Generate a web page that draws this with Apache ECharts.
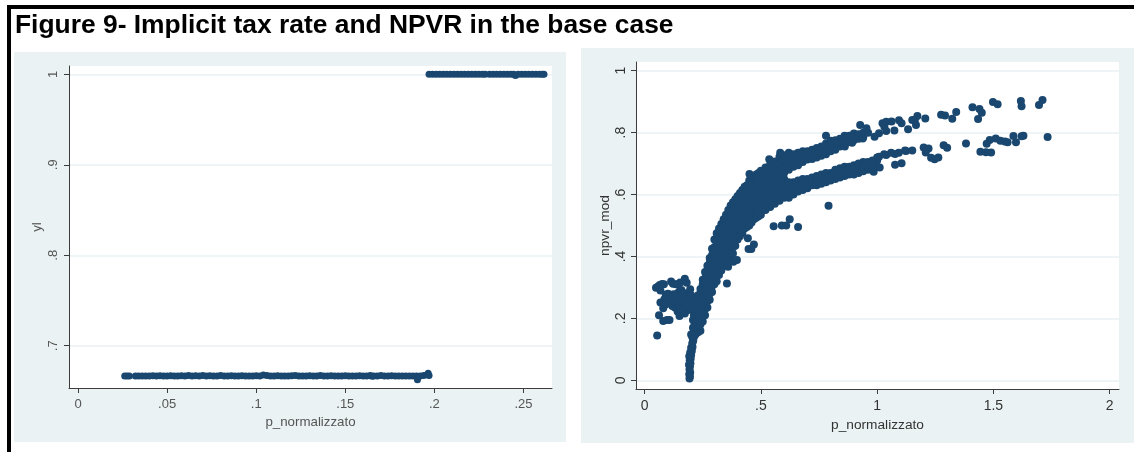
<!DOCTYPE html>
<html><head><meta charset="utf-8">
<style>html,body{margin:0;padding:0;background:#fff}#c{width:1134px;height:452px}</style>
<script src="https://cdn.jsdelivr.net/npm/echarts@6/dist/echarts.min.js"></script>
</head><body><div id="c"></div>
<script>
const titleText = 'Figure 9- Implicit tax rate and NPVR in the base case';
const xName = 'p_normalizzato', leftYName = 'yl', rightYName = 'npvr_mod';
const leftXTicks = [0, 0.05, 0.1, 0.15, 0.2, 0.25];
const leftYTicks = [0.7, 0.8, 0.9, 1];
const rightXTicks = [0, 0.5, 1, 1.5, 2];
const rightYTicks = [0, 0.2, 0.4, 0.6, 0.8, 1];

// Left panel: readings from the two horizontal bands
const lowBandPoints = [[.0262,.6667],[.0275,.6667],[.0288,.6667],[.0322,.6667],[.034,.6667],[.036,.6667],[.038,.6667],[.04,.6667],[.042,.6668],[.044,.6667],[.046,.6668],[.048,.6667],[.05,.6667],[.052,.6668],[.054,.6667],[.056,.6667],[.058,.6668],[.06,.6667],[.062,.667],[.064,.6667],[.066,.6668],[.068,.6667],[.07,.6672],[.072,.6667],[.074,.6668],[.076,.6667],[.078,.6667],[.08,.6672],[.082,.6667],[.084,.6667],[.086,.6668],[.088,.6667],[.09,.6667],[.092,.6668],[.094,.6667],[.096,.6667],[.098,.6667],[.1,.6668],[.102,.6667],[.104,.6676],[.106,.6672],[.108,.6667],[.11,.6667],[.112,.6668],[.114,.6667],[.116,.6667],[.118,.6667],[.12,.6668],[.122,.667],[.124,.6667],[.126,.6667],[.128,.6667],[.13,.6668],[.132,.6667],[.134,.6667],[.136,.667],[.138,.6667],[.14,.6667],[.142,.6668],[.144,.6667],[.146,.6667],[.148,.6667],[.15,.6668],[.152,.6667],[.154,.6667],[.156,.6667],[.158,.6668],[.16,.6667],[.162,.6667],[.164,.6672],[.165,.6662],[.166,.6667],[.168,.6667],[.17,.667],[.172,.6667],[.174,.6667],[.176,.6668],[.178,.6667],[.18,.6667],[.182,.6667],[.184,.6667],[.186,.6667],[.188,.6667],[.19,.6667],[.1905,.6625],[.192,.6667],[.194,.667],[.196,.668],[.1965,.6695],[.197,.6672]];
const highBandPoints = [[.197,1],[.199,1],[.201,1],[.203,1],[.205,1],[.207,1],[.209,1],[.211,1],[.213,1],[.215,1],[.217,1],[.219,1],[.221,1],[.223,1],[.225,1],[.227,1],[.2285,1],[.231,1],[.233,1],[.235,1],[.237,1],[.239,1],[.241,1],[.243,1],[.2445,1],[.2455,.9988],[.247,1],[.249,1],[.251,1],[.253,1],[.255,1],[.257,1],[.259,1],[.2605,1],[.2615,1]];

// Right panel: hand-read scatter points
const stemPoints = [[.193,.006],[.195,.012],[.192,.02],[.196,.025],[.193,.035],[.195,.045],[.191,.05],[.197,.055],[.194,.065],[.198,.07],[.192,.078],[.2,.082],[.196,.09],[.203,.095],[.2,.105],[.206,.108],[.205,.12],[.209,.128],[.205,.14],[.21,.136],[.2,.148],[.215,.145],[.212,.158],[.208,.17],[.215,.18],[.208,.195],[.212,.21]];
const clusterPoints = [[.054,.145],[.062,.21],[.08,.192],[.096,.195],[.107,.195],[.049,.299],[.058,.303],[.065,.308],[.075,.311],[.083,.31],[.068,.29],[.114,.319],[.122,.312],[.134,.31],[.145,.31],[.153,.316],[.173,.328],[.181,.315],[.068,.251],[.08,.233],[.091,.276],[.1,.28],[.111,.276],[.12,.268],[.127,.254],[.142,.281],[.15,.288],[.158,.292],[.173,.281],[.196,.294],[.189,.27],[.096,.259],[.119,.24],[.142,.222],[.15,.208],[.173,.216],[.165,.254],[.196,.243],[.212,.243],[.134,.27],[.158,.265],[.189,.227],[.219,.222],[.105,.25],[.085,.262],[.125,.278],[.18,.25],[.2,.26],[.205,.23],[.09,.245],[.11,.258],[.13,.235],[.145,.25],[.16,.235],[.175,.24],[.18,.27],[.165,.28],[.21,.26],[.2,.275],[.15,.268]];
const massX = [.22,.23,.24,.25,.26,.27,.28,.29,.30,.31,.32,.33,.34,.35,.36,.37,.38,.39,.40,.41,.42,.43,.44,.45,.46,.47,.48,.49,.50,.52,.54,.56,.58,.60];
const massYByColumn = [
 [.15,.17,.19,.21,.23,.25,.26],
 [.155,.175,.195,.215,.235,.255,.275],
 [.16,.18,.20,.22,.24,.26,.28,.295],
 [.19,.21,.23,.25,.27,.29,.31,.325],
 [.21,.23,.25,.27,.29,.31,.33,.35],
 [.235,.255,.275,.295,.315,.335,.355,.37],
 [.26,.28,.30,.32,.34,.36,.38,.395],
 [.285,.305,.325,.345,.365,.385,.405,.425],
 [.31,.33,.35,.37,.39,.41,.43,.455],
 [.32,.34,.36,.38,.40,.42,.44,.46,.475],
 [.34,.36,.38,.40,.42,.44,.46,.48,.49],
 [.355,.375,.395,.415,.435,.455,.475,.495,.505],
 [.37,.39,.41,.43,.45,.47,.49,.51,.52],
 [.385,.405,.425,.445,.465,.485,.505,.525,.535],
 [.39,.41,.43,.45,.47,.49,.51,.53,.55],
 [.405,.425,.445,.465,.485,.505,.525,.545,.565],
 [.41,.43,.45,.47,.49,.51,.53,.55,.575],
 [.435,.455,.475,.495,.515,.535,.555,.585],
 [.455,.475,.495,.515,.535,.555,.575,.595],
 [.465,.485,.505,.525,.545,.565,.585,.605],
 [.475,.495,.515,.535,.555,.575,.595,.615],
 [.49,.51,.53,.55,.57,.59,.61,.625],
 [.495,.515,.535,.555,.575,.595,.615,.63],
 [.50,.52,.54,.56,.58,.60,.62,.645],
 [.51,.53,.55,.57,.59,.61,.63,.65],
 [.52,.54,.56,.58,.60,.62,.64,.655],
 [.525,.545,.565,.585,.605,.625,.645,.665],
 [.53,.55,.57,.59,.61,.63,.65,.67],
 [.535,.555,.575,.595,.615,.635,.655,.677],
 [.55,.57,.59,.61,.63,.65,.67,.687],
 [.56,.58,.60,.62,.64,.66,.68,.697],
 [.57,.59,.61,.63,.65,.67,.69,.707],
 [.58,.60,.62,.64,.66,.68,.70,.722],
 [.59,.61,.63,.65,.67,.69,.71,.727]
];
const lowerBranchX = [.62,.64,.66,.68,.70,.72,.74,.76,.78,.80,.82,.84,.86,.88,.90,.92,.94,.96,.98,1.00];
const lowerBranchYByColumn = [
 [.59,.61,.63,.64],[.60,.62,.64],[.61,.63,.645],[.615,.635,.65],[.62,.635,.65],
 [.63,.645,.655],[.63,.645,.66],[.635,.65,.665],[.64,.655,.67],[.645,.66,.67],
 [.65,.665,.68],[.655,.67,.685],[.66,.675,.69],[.665,.68,.69],[.665,.68,.695],
 [.67,.685,.70],[.675,.69,.705],[.68,.695,.705],[.685,.70,.71],[.69,.71,.72]
];
const upperBranchX = [.62,.64,.66,.68,.70,.72,.74,.76,.78,.80,.82,.84,.86,.88,.90,.92,.94];
const upperBranchYByColumn = [
 [.68,.70,.72,.735],[.69,.71,.73],[.695,.715,.735],[.705,.725,.74],[.713,.727,.74],
 [.715,.73,.745],[.72,.735,.75],[.725,.74,.755],[.73,.745,.765],[.74,.757,.774],
 [.745,.76,.775],[.755,.77,.78],[.76,.775,.79],[.77,.78,.79],[.775,.785,.797],[.78,.795],[.785,.80]
];
const upperTailPoints = [[1.711,.905],[1.696,.889],[1.618,.902],[1.621,.885],[1.498,.899],[1.518,.892],[1.41,.882],[1.44,.876],[1.45,.864],[1.434,.844],[1.34,.867],[1.323,.845],[1.275,.858],[1.292,.855],[1.207,.846],[1.173,.854],[1.162,.841],[1.151,.841],[1.167,.825],[1.133,.811],[1.094,.84],[1.105,.83],[1.062,.836],[1.039,.835],[1.023,.83],[1.031,.819],[1.039,.805],[1.074,.807],[1.008,.798],[.989,.787],[.954,.814],[.927,.825],[.961,.80],[.938,.781],[.892,.767],[.861,.755],[.536,.714],[.583,.735],[.451,.666],[.78,.79]];
const lowerTailPoints = [[1.733,.786],[1.629,.79],[1.621,.788],[1.586,.789],[1.597,.769],[1.561,.769],[1.549,.771],[1.53,.774],[1.51,.781],[1.484,.776],[1.471,.764],[1.49,.736],[1.468,.737],[1.444,.738],[1.382,.765],[1.301,.751],[1.286,.759],[1.263,.72],[1.247,.714],[1.232,.719],[1.221,.749],[1.2,.752],[1.209,.736],[1.151,.742],[1.124,.741],[1.093,.735],[1.077,.731],[1.105,.701],[1.077,.696],[1.011,.687],[.985,.674],[1.039,.728],[1.008,.722],[1.03,.73],[1.06,.735],[1.12,.742]];
const outlierPoints = [[.791,.564],[.66,.495],[.624,.52],[.609,.5],[.59,.5],[.555,.498],[.47,.439],[.447,.424],[.459,.424],[.444,.459],[.397,.389],[.382,.383],[.354,.313],[.359,.367]];

const expand = (xs, cols) => xs.flatMap((x, i) => cols[i].map(y => [x, y]));
const leftData = lowBandPoints.concat(highBandPoints);
const rightData = [].concat(stemPoints, clusterPoints, expand(massX, massYByColumn),
  expand(lowerBranchX, lowerBranchYByColumn), expand(upperBranchX, upperBranchYByColumn),
  upperTailPoints, lowerTailPoints, outlierPoints);

const navy = '#1a476f', panel = '#eaf2f3', axisCol = '#3c3c3c', font = '"Liberation Sans", Arial, sans-serif';
const fmt = v => v === 0 ? '0' : String(v).replace(/^0\./, '.');
const xAxis = (grid, ticks, min, max, gap, nameSize, tickSize, col) => ({
  type: 'value', gridIndex: grid, min, max, name: xName, nameLocation: 'middle', nameGap: gap,
  nameTextStyle: { fontFamily: font, fontSize: nameSize, color: col },
  axisLine: { show: true, onZero: false, lineStyle: { color: axisCol, width: 1 } },
  axisTick: { show: true, length: 5, customValues: ticks, lineStyle: { color: axisCol } },
  axisLabel: { customValues: ticks, formatter: fmt, fontFamily: font, fontSize: tickSize, color: col, margin: 10, hideOverlap: false },
  splitLine: { show: false }
});
const yAxis = (grid, ticks, min, max, gap, nameSize, tickSize, col, name, margin) => ({
  type: 'value', gridIndex: grid, min, max, name, nameLocation: 'middle', nameGap: gap,
  nameTextStyle: { fontFamily: font, fontSize: nameSize, color: col },
  axisLine: { show: true, onZero: false, lineStyle: { color: axisCol, width: 1 } },
  axisTick: { show: true, length: 5, customValues: ticks, lineStyle: { color: axisCol } },
  axisLabel: { customValues: ticks, formatter: fmt, rotate: 90, fontFamily: font, fontSize: tickSize, color: col, margin, hideOverlap: false },
  splitLine: { show: true, lineStyle: { color: panel, width: 1.5 } }
});

const chart = echarts.init(document.getElementById('c'), null, { renderer: 'canvas' });
chart.setOption({
  animation: false,
  backgroundColor: '#fff',
  title: { text: titleText, left: 15, top: 13, padding: 0,
    textStyle: { fontFamily: font, fontWeight: 'bold', fontSize: 26.4, color: '#000' } },
  graphic: [
    { type: 'rect', z: -10, silent: true, shape: { x: 14, y: 52, width: 552, height: 390 }, style: { fill: panel } },
    { type: 'rect', z: -10, silent: true, shape: { x: 581, y: 48, width: 553, height: 395 }, style: { fill: panel } },
    { type: 'rect', z: 10, silent: true, shape: { x: 7, y: 5, width: 1127, height: 4 }, style: { fill: '#000' } },
    { type: 'rect', z: 10, silent: true, shape: { x: 7, y: 5, width: 4, height: 447 }, style: { fill: '#000' } }
  ],
  grid: [
    { left: 69, top: 66, width: 483, height: 322, show: true, backgroundColor: '#fff', borderWidth: 0 },
    { left: 636, top: 62, width: 483, height: 327, show: true, backgroundColor: '#fff', borderWidth: 0 }
  ],
  xAxis: [
    xAxis(0, leftXTicks, -0.00506, 0.266, 23, 13.3, 13, '#555'),
    xAxis(1, rightXTicks, -0.037, 2.04, 23, 13.7, 14, '#333')
  ],
  yAxis: [
    yAxis(0, leftYTicks, 0.6533, 1.0092, 25, 13.3, 13, '#555', leftYName, 9),
    yAxis(1, rightYTicks, -0.028, 1.0281, 24, 13.7, 14, '#333', rightYName, 8)
  ],
  series: [
    { type: 'scatter', xAxisIndex: 0, yAxisIndex: 0, data: leftData, symbolSize: 7, itemStyle: { color: navy, opacity: 1 } },
    { type: 'scatter', xAxisIndex: 1, yAxisIndex: 1, data: rightData, symbolSize: 8, itemStyle: { color: navy, opacity: 1 } }
  ]
});
</script></body></html>
